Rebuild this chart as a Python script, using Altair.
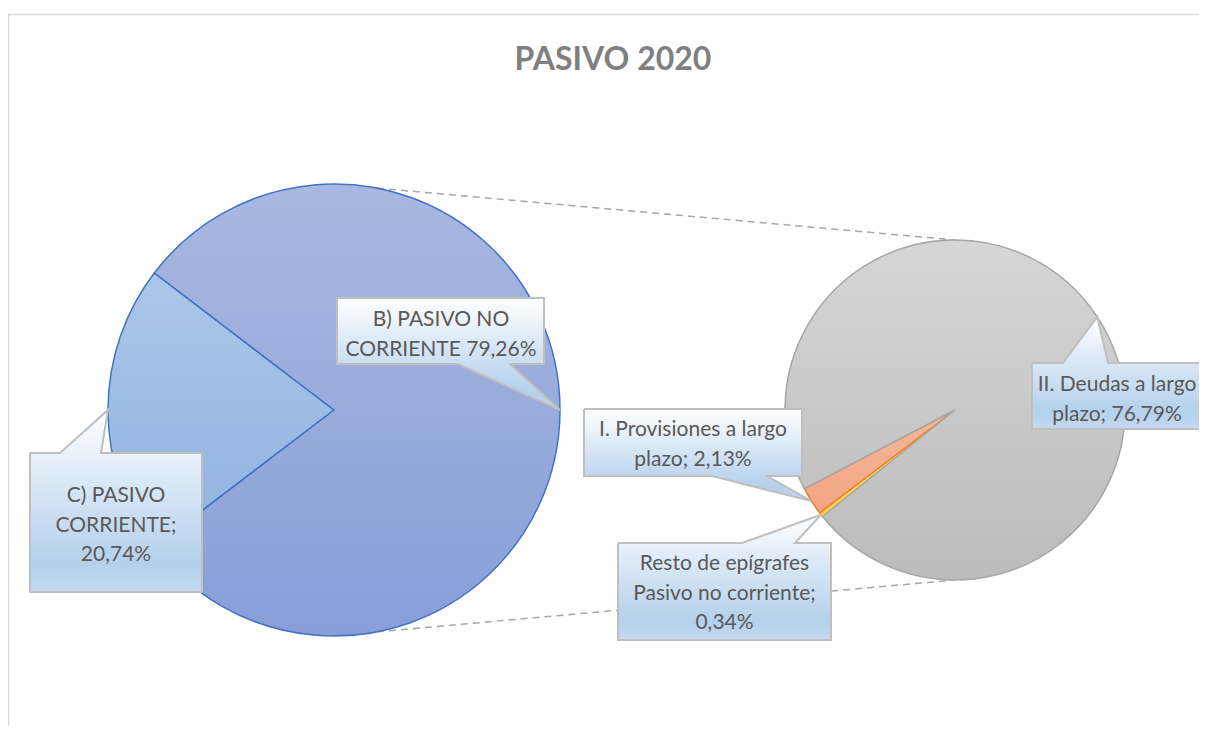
import math
import altair as alt
import pandas as pd

# ---------------- data ----------------
title_text = "PASIVO 2020"

main_names = ["C) PASIVO CORRIENTE", "B) PASIVO NO CORRIENTE"]
main_values = [20.74, 79.26]
main_labels = ["C) PASIVO\nCORRIENTE;\n20,74%", "B) PASIVO NO\nCORRIENTE 79,26%"]

sec_names = ["Resto de epígrafes Pasivo no corriente",
             "I. Provisiones a largo plazo",
             "II. Deudas a largo plazo"]
sec_values = [0.34, 2.13, 76.79]
sec_labels = ["Resto de epígrafes\nPasivo no corriente;\n0,34%",
              "I. Provisiones a largo\nplazo; 2,13%",
              "II. Deudas a largo\nplazo; 76,79%"]

# ---------------- layout (page pixels) ----------------
OFF = 8
W, H = 1191, 718
L_CX, L_CY, L_R = 334, 410, 226
R_CX, R_CY, R_R = 955, 410, 170
# first slice of the main pie is centred on the left side
L_START = 270 - main_values[0] / sum(main_values) * 360 / 2
R_START = 231.2

def grad(stops):
    return alt.LinearGradient(
        gradient="linear", x1=0, x2=0, y1=0, y2=1,
        stops=[alt.GradientStop(color=c, offset=o) for o, c in stops])

main_fills = [grad([(0, "#ABC6E8"), (1, "#8FB3E0")]),
              grad([(0, "#A9B8E0"), (1, "#889ED8")])]
main_strokes = ["#4472C4", "#4472C4"]
sec_fills = [grad([(0, "#FFE38A"), (1, "#FFD24D")]),
             grad([(0, "#F6B89A"), (1, "#F2A482")]),
             grad([(0, "#D6D6D6"), (1, "#BBBBBB")])]
sec_strokes = ["#FFC000", "#ED7D31", "#A6A6A6"]

def slices(names, values, start_deg):
    tot = sum(values)
    rows, acc = [], 0.0
    for n, v in zip(names, values):
        a0 = start_deg + acc / tot * 360
        acc += v
        a1 = start_deg + acc / tot * 360
        rows.append(dict(name=n, value=v, t0=math.radians(a0), t1=math.radians(a1),
                         mid=math.radians((a0 + a1) / 2)))
    return rows

main_rows = slices(main_names, main_values, L_START)
sec_rows = slices(sec_names, sec_values, R_START)

layers = []

# frame
layers.append(
    alt.Chart(pd.DataFrame({"k": [0]})).mark_rect(
        fill=None, stroke="#D9D9D9", strokeWidth=1.5).encode(
        x=alt.value(0.5), x2=alt.value(W + 20), y=alt.value(6.5), y2=alt.value(H + 20)))

# connector lines (left pie edge -> right pie top/bottom)
def pt(cx, cy, r, deg):
    a = math.radians(deg)
    return cx + r * math.sin(a) - OFF, cy - r * math.cos(a) - OFF

conn = []
for la, ra in [(11, 0), (169, 180)]:
    x1, y1 = pt(L_CX, L_CY, L_R, la)
    x2, y2 = pt(R_CX, R_CY, R_R, ra)
    conn.append(dict(x=x1, y=y1, x2=x2, y2=y2))
layers.append(
    alt.Chart(pd.DataFrame(conn)).mark_rule(
        color="#A6A6A6", strokeWidth=1.5, strokeDash=[7, 5]).encode(
        x=alt.X("x:Q", scale=None), y=alt.Y("y:Q", scale=None),
        x2="x2:Q", y2="y2:Q"))

# pies
def pie_layers(rows, fills, strokes, cx, cy, r):
    out = []
    for row, f, s in zip(rows, fills, strokes):
        out.append(
            alt.Chart(pd.DataFrame([row])).mark_arc(
                radius=r, fill=f, stroke=s, strokeWidth=1.5).encode(
                theta=alt.Theta("t0:Q", scale=None), theta2="t1:Q",
                x=alt.value(cx - OFF), y=alt.value(cy - OFF)))
    return out

layers += pie_layers(main_rows, main_fills, main_strokes, L_CX, L_CY, L_R)
layers += pie_layers(sec_rows, sec_fills, sec_strokes, R_CX, R_CY, R_R)

# callouts: box (x0, y0, x1, y1), pointer edge, pointer base xs, text centre x, first baseline
callouts = [
    (main_rows[0], L_CX, L_CY, L_R, main_labels[0], (30, 453, 202, 592), "top", (60, 101), 116, 502),
    (main_rows[1], L_CX, L_CY, L_R, main_labels[1], (337, 298, 544, 364), "bottom", (458, 510), 441, 326),
    (sec_rows[0], R_CX, R_CY, R_R, sec_labels[0], (618, 543, 831, 640), "top", (742, 795), 724.5, 570),
    (sec_rows[1], R_CX, R_CY, R_R, sec_labels[1], (584, 409, 802, 476), "bottom", (712, 767), 693, 436),
    (sec_rows[2], R_CX, R_CY, R_R, sec_labels[2], (1032, 363, 1260, 429), "top", (1063, 1108), 1117, 391),
]

poly, texts = [], []
for cid, (row, cx, cy, r, lab, box, edge, base, tx, ty) in enumerate(callouts):
    x0, y0, x1, y1 = box
    tipx = cx + r * math.sin(row["mid"])
    tipy = cy - r * math.cos(row["mid"])
    if edge == "top":
        pts = [(x0, y0), (base[0], y0), (tipx, tipy), (base[1], y0), (x1, y0), (x1, y1), (x0, y1), (x0, y0)]
    else:
        pts = [(x0, y0), (x1, y0), (x1, y1), (base[1], y1), (tipx, tipy), (base[0], y1), (x0, y1), (x0, y0)]
    for i, (px, py) in enumerate(pts):
        poly.append(dict(cid=cid, i=i, x=px - OFF, y=py - OFF))
    texts.append(dict(label=lab, x=tx - OFF, y=ty - OFF))

callout_fill = grad([(0, "#FFFFFF"), (0.45, "#D6E5F5"), (0.85, "#B4D0EB"), (1, "#C4D9EF")])
layers.append(
    alt.Chart(pd.DataFrame(poly)).mark_line(
        fill=callout_fill, stroke="#BFBFBF", strokeWidth=2, strokeJoin="miter",
        interpolate="linear").encode(
        x=alt.X("x:Q", scale=None), y=alt.Y("y:Q", scale=None),
        order=alt.Order("i:Q"), detail="cid:N"))

layers.append(
    alt.Chart(pd.DataFrame(texts)).mark_text(
        font="Lato", fontSize=21, color="#595959", lineBreak="\n", lineHeight=29.5,
        align="center", baseline="alphabetic").encode(
        x=alt.X("x:Q", scale=None), y=alt.Y("y:Q", scale=None), text="label:N"))

# title
layers.append(
    alt.Chart(pd.DataFrame({"t": [title_text]})).mark_text(
        font="Lato", fontSize=32, fontWeight="bold", color="#7F7F7F",
        align="center", baseline="alphabetic").encode(
        x=alt.value(613 - OFF), y=alt.value(70 - OFF), text="t:N"))

chart = alt.layer(*layers).properties(
    width=W, height=H, padding=0, autosize="none").configure_view(stroke=None)

chart.save("out.html", embed_options={"renderer": "svg", "actions": False})
